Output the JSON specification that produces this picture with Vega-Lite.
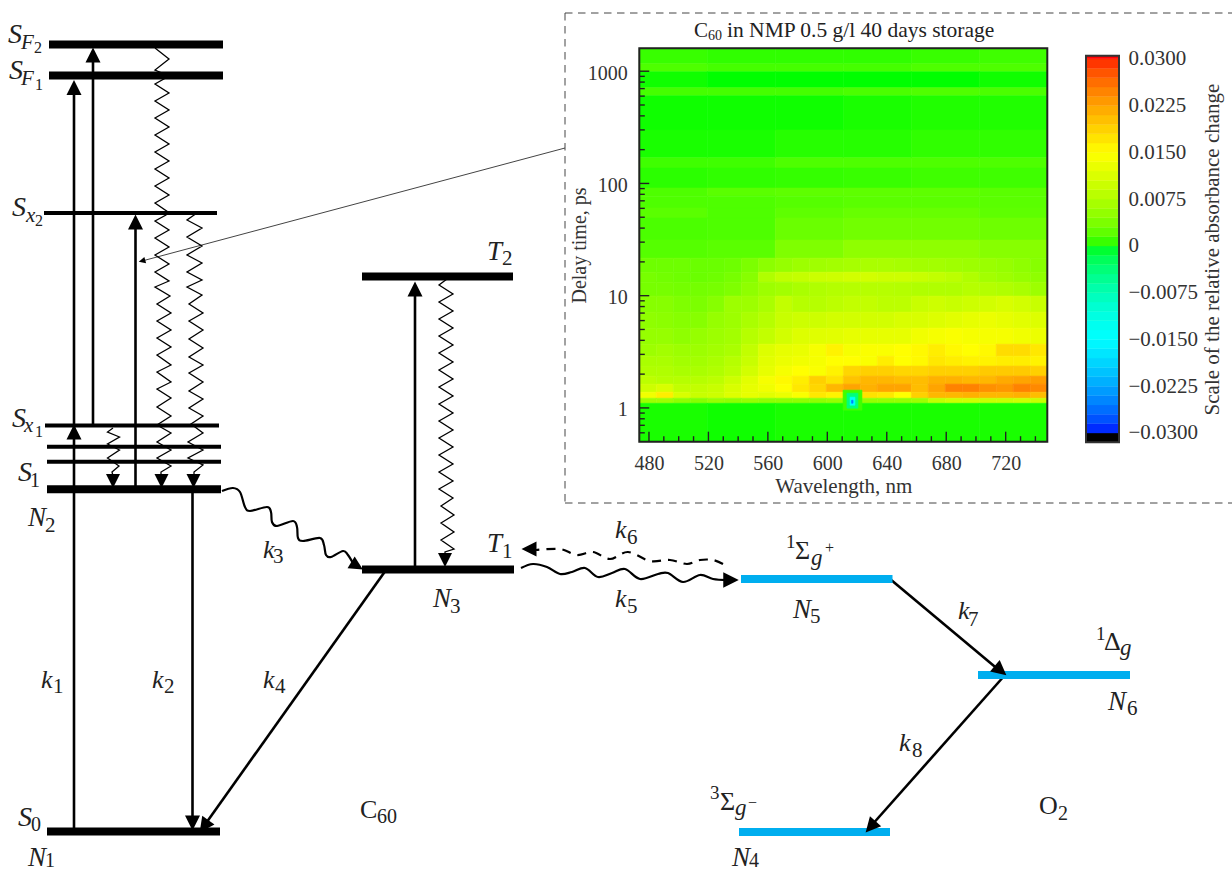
{"$schema":"https://vega.github.io/schema/vega-lite/v6.json","width":1232,"height":872,"padding":0,"autosize":{"type":"none"},"background":"white","config":{"view":{"stroke":null}},
"datasets":{
"cols":[{"c":0,"a":473.5,"b":484.9},{"c":1,"a":484.9,"b":496.4},{"c":2,"a":496.4,"b":507.8},{"c":3,"a":507.8,"b":519.3},{"c":4,"a":519.3,"b":530.7},{"c":5,"a":530.7,"b":542.1},{"c":6,"a":542.1,"b":553.6},{"c":7,"a":553.6,"b":565},{"c":8,"a":565,"b":576.4},{"c":9,"a":576.4,"b":587.9},{"c":10,"a":587.9,"b":599.3},{"c":11,"a":599.3,"b":610.8},{"c":12,"a":610.8,"b":622.2},{"c":13,"a":622.2,"b":633.6},{"c":14,"a":633.6,"b":645.1},{"c":15,"a":645.1,"b":656.5},{"c":16,"a":656.5,"b":667.9},{"c":17,"a":667.9,"b":679.4},{"c":18,"a":679.4,"b":690.8},{"c":19,"a":690.8,"b":702.3},{"c":20,"a":702.3,"b":713.7},{"c":21,"a":713.7,"b":725.1},{"c":22,"a":725.1,"b":736.6},{"c":23,"a":736.6,"b":748},{"c":30,"a":473.5,"b":519.3},{"c":31,"a":519.3,"b":565},{"c":32,"a":565,"b":610.8},{"c":33,"a":610.8,"b":656.5},{"c":34,"a":656.5,"b":702.3},{"c":35,"a":702.3,"b":748},{"c":40,"a":610.6,"b":623.3},{"c":41,"a":613.2,"b":620.6},{"c":42,"a":615.3,"b":618.6},{"c":43,"a":616.3,"b":617.3}],
"rowsT":[{"r":0,"d0":1164,"d1":1600},{"r":1,"d0":988,"d1":1164},{"r":2,"d0":711,"d1":988},{"r":3,"d0":604,"d1":711},{"r":4,"d0":300,"d1":604},{"r":5,"d0":169,"d1":300},{"r":6,"d0":137,"d1":169},{"r":7,"d0":91,"d1":137},{"r":8,"d0":77,"d1":91},{"r":9,"d0":60.4,"d1":77},{"r":10,"d0":49.2,"d1":60.4},{"r":11,"d0":31.3,"d1":49.2},{"r":12,"d0":21.6,"d1":31.3},{"r":13,"d0":16.2,"d1":21.6},{"r":14,"d0":13.2,"d1":16.2},{"r":15,"d0":9.92,"d1":13.2},{"r":16,"d0":7.14,"d1":9.92},{"r":17,"d0":5.14,"d1":7.14},{"r":18,"d0":3.7,"d1":5.14},{"r":19,"d0":2.89,"d1":3.7},{"r":20,"d0":2.36,"d1":2.89},{"r":21,"d0":1.92,"d1":2.36},{"r":22,"d0":1.63,"d1":1.92},{"r":23,"d0":1.38,"d1":1.63},{"r":24,"d0":1.22,"d1":1.38},{"r":25,"d0":1.1,"d1":1.22},{"r":26,"d0":0.5,"d1":1.1},{"r":40,"d0":0.954,"d1":1.44},{"r":41,"d0":0.994,"d1":1.352},{"r":42,"d0":1.057,"d1":1.246},{"r":43,"d0":1.101,"d1":1.171}],
"cells":[
{"c":30,"r":0,"v":0.0008},{"c":31,"r":0,"v":0.0006},{"c":32,"r":0,"v":0.0006},{"c":33,"r":0,"v":0.0006},{"c":34,"r":0,"v":0.0008},{"c":35,"r":0,"v":0.001},
{"c":30,"r":1,"v":0.0015},{"c":31,"r":1,"v":0.0012},{"c":32,"r":1,"v":0.0012},{"c":33,"r":1,"v":0.0012},{"c":34,"r":1,"v":0.0015},{"c":35,"r":1,"v":0.0015},
{"c":30,"r":2,"v":0.0001},{"c":31,"r":2,"v":0},{"c":32,"r":2,"v":0},{"c":33,"r":2,"v":0},{"c":34,"r":2,"v":0},{"c":35,"r":2,"v":0.0001},
{"c":30,"r":3,"v":0.0012},{"c":31,"r":3,"v":0.0012},{"c":32,"r":3,"v":0.0012},{"c":33,"r":3,"v":0.0014},{"c":34,"r":3,"v":0.0016},{"c":35,"r":3,"v":0.0014},
{"c":30,"r":4,"v":0.0001},{"c":31,"r":4,"v":0.0001},{"c":32,"r":4,"v":0.0001},{"c":33,"r":4,"v":0.0002},{"c":34,"r":4,"v":0.0003},{"c":35,"r":4,"v":0.0003},
{"c":30,"r":5,"v":0.0002},{"c":31,"r":5,"v":0.0002},{"c":32,"r":5,"v":0.0004},{"c":33,"r":5,"v":0.0004},{"c":34,"r":5,"v":0.0006},{"c":35,"r":5,"v":0.0006},
{"c":30,"r":6,"v":0.001},{"c":31,"r":6,"v":0.001},{"c":32,"r":6,"v":0.0015},{"c":33,"r":6,"v":0.0015},{"c":34,"r":6,"v":0.0015},{"c":35,"r":6,"v":0.0015},
{"c":30,"r":7,"v":0.0005},{"c":31,"r":7,"v":0.0006},{"c":32,"r":7,"v":0.0007},{"c":33,"r":7,"v":0.0008},{"c":34,"r":7,"v":0.001},{"c":35,"r":7,"v":0.001},
{"c":30,"r":8,"v":0.0015},{"c":31,"r":8,"v":0.002},{"c":32,"r":8,"v":0.0022},{"c":33,"r":8,"v":0.0022},{"c":34,"r":8,"v":0.0022},{"c":35,"r":8,"v":0.002},
{"c":30,"r":9,"v":0.0015},{"c":31,"r":9,"v":0.0015},{"c":32,"r":9,"v":0.0018},{"c":33,"r":9,"v":0.002},{"c":34,"r":9,"v":0.002},{"c":35,"r":9,"v":0.002},
{"c":30,"r":10,"v":0.002},{"c":31,"r":10,"v":0.0015},{"c":32,"r":10,"v":0.0022},{"c":33,"r":10,"v":0.0026},{"c":34,"r":10,"v":0.0026},{"c":35,"r":10,"v":0.0022},
{"c":30,"r":11,"v":0.0014},{"c":31,"r":11,"v":0.0015},{"c":32,"r":11,"v":0.0028},{"c":33,"r":11,"v":0.0032},{"c":34,"r":11,"v":0.0032},{"c":35,"r":11,"v":0.003},
{"c":30,"r":12,"v":0.0018},{"c":31,"r":12,"v":0.002},{"c":32,"r":12,"v":0.004},{"c":33,"r":12,"v":0.005},{"c":34,"r":12,"v":0.005},{"c":35,"r":12,"v":0.0045},
{"c":0,"r":13,"v":0.003},{"c":1,"r":13,"v":0.003},{"c":2,"r":13,"v":0.003},{"c":3,"r":13,"v":0.0028},{"c":4,"r":13,"v":0.0028},{"c":5,"r":13,"v":0.003},{"c":6,"r":13,"v":0.0038},{"c":7,"r":13,"v":0.0048},{"c":8,"r":13,"v":0.0055},{"c":9,"r":13,"v":0.006},{"c":10,"r":13,"v":0.0062},{"c":11,"r":13,"v":0.0065},{"c":12,"r":13,"v":0.0068},{"c":13,"r":13,"v":0.007},{"c":14,"r":13,"v":0.007},{"c":15,"r":13,"v":0.0068},{"c":16,"r":13,"v":0.0065},{"c":17,"r":13,"v":0.0065},{"c":18,"r":13,"v":0.0062},{"c":19,"r":13,"v":0.006},{"c":20,"r":13,"v":0.0058},{"c":21,"r":13,"v":0.0055},{"c":22,"r":13,"v":0.005},{"c":23,"r":13,"v":0.0045},
{"c":0,"r":14,"v":0.0035},{"c":1,"r":14,"v":0.0032},{"c":2,"r":14,"v":0.003},{"c":3,"r":14,"v":0.0028},{"c":4,"r":14,"v":0.003},{"c":5,"r":14,"v":0.0035},{"c":6,"r":14,"v":0.0045},{"c":7,"r":14,"v":0.0075},{"c":8,"r":14,"v":0.0088},{"c":9,"r":14,"v":0.0092},{"c":10,"r":14,"v":0.0098},{"c":11,"r":14,"v":0.01},{"c":12,"r":14,"v":0.0105},{"c":13,"r":14,"v":0.0105},{"c":14,"r":14,"v":0.01},{"c":15,"r":14,"v":0.01},{"c":16,"r":14,"v":0.0095},{"c":17,"r":14,"v":0.009},{"c":18,"r":14,"v":0.0085},{"c":19,"r":14,"v":0.0075},{"c":20,"r":14,"v":0.0065},{"c":21,"r":14,"v":0.006},{"c":22,"r":14,"v":0.0055},{"c":23,"r":14,"v":0.005},
{"c":0,"r":15,"v":0.0035},{"c":1,"r":15,"v":0.0035},{"c":2,"r":15,"v":0.0033},{"c":3,"r":15,"v":0.0033},{"c":4,"r":15,"v":0.0035},{"c":5,"r":15,"v":0.004},{"c":6,"r":15,"v":0.005},{"c":7,"r":15,"v":0.006},{"c":8,"r":15,"v":0.0065},{"c":9,"r":15,"v":0.007},{"c":10,"r":15,"v":0.0075},{"c":11,"r":15,"v":0.0078},{"c":12,"r":15,"v":0.008},{"c":13,"r":15,"v":0.008},{"c":14,"r":15,"v":0.008},{"c":15,"r":15,"v":0.0078},{"c":16,"r":15,"v":0.0075},{"c":17,"r":15,"v":0.0075},{"c":18,"r":15,"v":0.0075},{"c":19,"r":15,"v":0.008},{"c":20,"r":15,"v":0.0078},{"c":21,"r":15,"v":0.0075},{"c":22,"r":15,"v":0.007},{"c":23,"r":15,"v":0.006},
{"c":0,"r":16,"v":0.0045},{"c":1,"r":16,"v":0.0045},{"c":2,"r":16,"v":0.004},{"c":3,"r":16,"v":0.0038},{"c":4,"r":16,"v":0.0045},{"c":5,"r":16,"v":0.006},{"c":6,"r":16,"v":0.006},{"c":7,"r":16,"v":0.007},{"c":8,"r":16,"v":0.009},{"c":9,"r":16,"v":0.008},{"c":10,"r":16,"v":0.008},{"c":11,"r":16,"v":0.0085},{"c":12,"r":16,"v":0.009},{"c":13,"r":16,"v":0.009},{"c":14,"r":16,"v":0.0085},{"c":15,"r":16,"v":0.0085},{"c":16,"r":16,"v":0.0095},{"c":17,"r":16,"v":0.01},{"c":18,"r":16,"v":0.0095},{"c":19,"r":16,"v":0.01},{"c":20,"r":16,"v":0.0105},{"c":21,"r":16,"v":0.011},{"c":22,"r":16,"v":0.0105},{"c":23,"r":16,"v":0.0095},
{"c":0,"r":17,"v":0.005},{"c":1,"r":17,"v":0.0048},{"c":2,"r":17,"v":0.0045},{"c":3,"r":17,"v":0.0045},{"c":4,"r":17,"v":0.0055},{"c":5,"r":17,"v":0.006},{"c":6,"r":17,"v":0.007},{"c":7,"r":17,"v":0.008},{"c":8,"r":17,"v":0.0095},{"c":9,"r":17,"v":0.01},{"c":10,"r":17,"v":0.01},{"c":11,"r":17,"v":0.0105},{"c":12,"r":17,"v":0.0105},{"c":13,"r":17,"v":0.0105},{"c":14,"r":17,"v":0.0105},{"c":15,"r":17,"v":0.011},{"c":16,"r":17,"v":0.011},{"c":17,"r":17,"v":0.0115},{"c":18,"r":17,"v":0.012},{"c":19,"r":17,"v":0.0125},{"c":20,"r":17,"v":0.013},{"c":21,"r":17,"v":0.0125},{"c":22,"r":17,"v":0.012},{"c":23,"r":17,"v":0.0115},
{"c":0,"r":18,"v":0.0055},{"c":1,"r":18,"v":0.0055},{"c":2,"r":18,"v":0.005},{"c":3,"r":18,"v":0.0055},{"c":4,"r":18,"v":0.006},{"c":5,"r":18,"v":0.0065},{"c":6,"r":18,"v":0.008},{"c":7,"r":18,"v":0.009},{"c":8,"r":18,"v":0.0105},{"c":9,"r":18,"v":0.0115},{"c":10,"r":18,"v":0.0118},{"c":11,"r":18,"v":0.012},{"c":12,"r":18,"v":0.0125},{"c":13,"r":18,"v":0.0125},{"c":14,"r":18,"v":0.0125},{"c":15,"r":18,"v":0.0125},{"c":16,"r":18,"v":0.0135},{"c":17,"r":18,"v":0.014},{"c":18,"r":18,"v":0.0145},{"c":19,"r":18,"v":0.014},{"c":20,"r":18,"v":0.014},{"c":21,"r":18,"v":0.014},{"c":22,"r":18,"v":0.0135},{"c":23,"r":18,"v":0.013},
{"c":0,"r":19,"v":0.006},{"c":1,"r":19,"v":0.0065},{"c":2,"r":19,"v":0.006},{"c":3,"r":19,"v":0.006},{"c":4,"r":19,"v":0.0065},{"c":5,"r":19,"v":0.007},{"c":6,"r":19,"v":0.009},{"c":7,"r":19,"v":0.0115},{"c":8,"r":19,"v":0.0125},{"c":9,"r":19,"v":0.0128},{"c":10,"r":19,"v":0.014},{"c":11,"r":19,"v":0.016},{"c":12,"r":19,"v":0.014},{"c":13,"r":19,"v":0.0145},{"c":14,"r":19,"v":0.0145},{"c":15,"r":19,"v":0.015},{"c":16,"r":19,"v":0.0155},{"c":17,"r":19,"v":0.0165},{"c":18,"r":19,"v":0.0155},{"c":19,"r":19,"v":0.015},{"c":20,"r":19,"v":0.0155},{"c":21,"r":19,"v":0.018},{"c":22,"r":19,"v":0.018},{"c":23,"r":19,"v":0.017},
{"c":0,"r":20,"v":0.007},{"c":1,"r":20,"v":0.007},{"c":2,"r":20,"v":0.0065},{"c":3,"r":20,"v":0.0065},{"c":4,"r":20,"v":0.007},{"c":5,"r":20,"v":0.008},{"c":6,"r":20,"v":0.0095},{"c":7,"r":20,"v":0.012},{"c":8,"r":20,"v":0.013},{"c":9,"r":20,"v":0.0135},{"c":10,"r":20,"v":0.014},{"c":11,"r":20,"v":0.015},{"c":12,"r":20,"v":0.015},{"c":13,"r":20,"v":0.0145},{"c":14,"r":20,"v":0.0165},{"c":15,"r":20,"v":0.015},{"c":16,"r":20,"v":0.0155},{"c":17,"r":20,"v":0.017},{"c":18,"r":20,"v":0.0165},{"c":19,"r":20,"v":0.016},{"c":20,"r":20,"v":0.016},{"c":21,"r":20,"v":0.0165},{"c":22,"r":20,"v":0.0165},{"c":23,"r":20,"v":0.016},
{"c":0,"r":21,"v":0.0075},{"c":1,"r":21,"v":0.0075},{"c":2,"r":21,"v":0.007},{"c":3,"r":21,"v":0.007},{"c":4,"r":21,"v":0.0075},{"c":5,"r":21,"v":0.0085},{"c":6,"r":21,"v":0.0105},{"c":7,"r":21,"v":0.0125},{"c":8,"r":21,"v":0.014},{"c":9,"r":21,"v":0.015},{"c":10,"r":21,"v":0.0145},{"c":11,"r":21,"v":0.016},{"c":12,"r":21,"v":0.0185},{"c":13,"r":21,"v":0.019},{"c":14,"r":21,"v":0.019},{"c":15,"r":21,"v":0.0185},{"c":16,"r":21,"v":0.0185},{"c":17,"r":21,"v":0.019},{"c":18,"r":21,"v":0.019},{"c":19,"r":21,"v":0.019},{"c":20,"r":21,"v":0.0195},{"c":21,"r":21,"v":0.0195},{"c":22,"r":21,"v":0.0195},{"c":23,"r":21,"v":0.019},
{"c":0,"r":22,"v":0.0085},{"c":1,"r":22,"v":0.008},{"c":2,"r":22,"v":0.008},{"c":3,"r":22,"v":0.008},{"c":4,"r":22,"v":0.0085},{"c":5,"r":22,"v":0.01},{"c":6,"r":22,"v":0.012},{"c":7,"r":22,"v":0.014},{"c":8,"r":22,"v":0.0155},{"c":9,"r":22,"v":0.0165},{"c":10,"r":22,"v":0.019},{"c":11,"r":22,"v":0.0175},{"c":12,"r":22,"v":0.02},{"c":13,"r":22,"v":0.021},{"c":14,"r":22,"v":0.021},{"c":15,"r":22,"v":0.0205},{"c":16,"r":22,"v":0.0205},{"c":17,"r":22,"v":0.0215},{"c":18,"r":22,"v":0.0215},{"c":19,"r":22,"v":0.021},{"c":20,"r":22,"v":0.021},{"c":21,"r":22,"v":0.022},{"c":22,"r":22,"v":0.0225},{"c":23,"r":22,"v":0.023},
{"c":0,"r":23,"v":0.01},{"c":1,"r":23,"v":0.011},{"c":2,"r":23,"v":0.009},{"c":3,"r":23,"v":0.009},{"c":4,"r":23,"v":0.0095},{"c":5,"r":23,"v":0.011},{"c":6,"r":23,"v":0.0125},{"c":7,"r":23,"v":0.0135},{"c":8,"r":23,"v":0.015},{"c":9,"r":23,"v":0.017},{"c":10,"r":23,"v":0.0185},{"c":11,"r":23,"v":0.021},{"c":12,"r":23,"v":0.0225},{"c":13,"r":23,"v":0.0215},{"c":14,"r":23,"v":0.0225},{"c":15,"r":23,"v":0.0225},{"c":16,"r":23,"v":0.0205},{"c":17,"r":23,"v":0.0225},{"c":18,"r":23,"v":0.025},{"c":19,"r":23,"v":0.025},{"c":20,"r":23,"v":0.024},{"c":21,"r":23,"v":0.0235},{"c":22,"r":23,"v":0.025},{"c":23,"r":23,"v":0.0245},
{"c":0,"r":24,"v":0.0135},{"c":1,"r":24,"v":0.0165},{"c":2,"r":24,"v":0.011},{"c":3,"r":24,"v":0.0095},{"c":4,"r":24,"v":0.01},{"c":5,"r":24,"v":0.0115},{"c":6,"r":24,"v":0.0125},{"c":7,"r":24,"v":0.012},{"c":8,"r":24,"v":0.013},{"c":9,"r":24,"v":0.0145},{"c":10,"r":24,"v":0.017},{"c":11,"r":24,"v":0.016},{"c":12,"r":24,"v":0.0175},{"c":13,"r":24,"v":0.0175},{"c":14,"r":24,"v":0.017},{"c":15,"r":24,"v":0.015},{"c":16,"r":24,"v":0.019},{"c":17,"r":24,"v":0.021},{"c":18,"r":24,"v":0.021},{"c":19,"r":24,"v":0.0215},{"c":20,"r":24,"v":0.021},{"c":21,"r":24,"v":0.021},{"c":22,"r":24,"v":0.0215},{"c":23,"r":24,"v":0.0205},
{"c":0,"r":25,"v":0.006},{"c":1,"r":25,"v":0.006},{"c":2,"r":25,"v":0.005},{"c":3,"r":25,"v":0.0045},{"c":4,"r":25,"v":0.0055},{"c":5,"r":25,"v":0.005},{"c":6,"r":25,"v":0.0055},{"c":7,"r":25,"v":0.005},{"c":8,"r":25,"v":0.005},{"c":9,"r":25,"v":0.005},{"c":10,"r":25,"v":0.005},{"c":11,"r":25,"v":0.0055},{"c":12,"r":25,"v":0.006},{"c":13,"r":25,"v":0.0055},{"c":14,"r":25,"v":0.0055},{"c":15,"r":25,"v":0.0055},{"c":16,"r":25,"v":0.006},{"c":17,"r":25,"v":0.009},{"c":18,"r":25,"v":0.01},{"c":19,"r":25,"v":0.01},{"c":20,"r":25,"v":0.0095},{"c":21,"r":25,"v":0.0095},{"c":22,"r":25,"v":0.01},{"c":23,"r":25,"v":0.0095},
{"c":30,"r":26,"v":0.0002},{"c":31,"r":26,"v":0.0001},{"c":32,"r":26,"v":0.0002},{"c":33,"r":26,"v":0.0002},{"c":34,"r":26,"v":0.0002},{"c":35,"r":26,"v":0.0002},
{"c":40,"r":40,"v":0.001},{"c":41,"r":41,"v":-0.004},{"c":42,"r":42,"v":-0.014},{"c":43,"r":43,"v":-0.025}],
"bar":[{"a":0,"b":1,"v0":-0.0315,"v1":-0.03,"v":-0.0305},{"a":0,"b":1,"v0":-0.03,"v1":-0.0285,"v":-0.0293},{"a":0,"b":1,"v0":-0.0285,"v1":-0.027,"v":-0.0278},{"a":0,"b":1,"v0":-0.027,"v1":-0.0255,"v":-0.0263},{"a":0,"b":1,"v0":-0.0255,"v1":-0.024,"v":-0.0248},{"a":0,"b":1,"v0":-0.024,"v1":-0.0225,"v":-0.0233},{"a":0,"b":1,"v0":-0.0225,"v1":-0.021,"v":-0.0218},{"a":0,"b":1,"v0":-0.021,"v1":-0.0195,"v":-0.0203},{"a":0,"b":1,"v0":-0.0195,"v1":-0.018,"v":-0.0188},{"a":0,"b":1,"v0":-0.018,"v1":-0.0165,"v":-0.0173},{"a":0,"b":1,"v0":-0.0165,"v1":-0.015,"v":-0.0158},{"a":0,"b":1,"v0":-0.015,"v1":-0.0135,"v":-0.0143},{"a":0,"b":1,"v0":-0.0135,"v1":-0.012,"v":-0.0128},{"a":0,"b":1,"v0":-0.012,"v1":-0.0105,"v":-0.0113},{"a":0,"b":1,"v0":-0.0105,"v1":-0.009,"v":-0.0098},{"a":0,"b":1,"v0":-0.009,"v1":-0.0075,"v":-0.0083},{"a":0,"b":1,"v0":-0.0075,"v1":-0.006,"v":-0.0068},{"a":0,"b":1,"v0":-0.006,"v1":-0.0045,"v":-0.0053},{"a":0,"b":1,"v0":-0.0045,"v1":-0.003,"v":-0.0038},{"a":0,"b":1,"v0":-0.003,"v1":-0.0015,"v":-0.0023},{"a":0,"b":1,"v0":-0.0015,"v1":0,"v":-0.0008},{"a":0,"b":1,"v0":0,"v1":0.0015,"v":0.0008},{"a":0,"b":1,"v0":0.0015,"v1":0.003,"v":0.0023},{"a":0,"b":1,"v0":0.003,"v1":0.0045,"v":0.0038},{"a":0,"b":1,"v0":0.0045,"v1":0.006,"v":0.0053},{"a":0,"b":1,"v0":0.006,"v1":0.0075,"v":0.0068},{"a":0,"b":1,"v0":0.0075,"v1":0.009,"v":0.0083},{"a":0,"b":1,"v0":0.009,"v1":0.0105,"v":0.0098},{"a":0,"b":1,"v0":0.0105,"v1":0.012,"v":0.0113},{"a":0,"b":1,"v0":0.012,"v1":0.0135,"v":0.0128},{"a":0,"b":1,"v0":0.0135,"v1":0.015,"v":0.0143},{"a":0,"b":1,"v0":0.015,"v1":0.0165,"v":0.0158},{"a":0,"b":1,"v0":0.0165,"v1":0.018,"v":0.0173},{"a":0,"b":1,"v0":0.018,"v1":0.0195,"v":0.0188},{"a":0,"b":1,"v0":0.0195,"v1":0.021,"v":0.0203},{"a":0,"b":1,"v0":0.021,"v1":0.0225,"v":0.0218},{"a":0,"b":1,"v0":0.0225,"v1":0.024,"v":0.0233},{"a":0,"b":1,"v0":0.024,"v1":0.0255,"v":0.0248},{"a":0,"b":1,"v0":0.0255,"v1":0.027,"v":0.0263},{"a":0,"b":1,"v0":0.027,"v1":0.0285,"v":0.0278},{"a":0,"b":1,"v0":0.0285,"v1":0.03,"v":0.0293},{"a":0,"b":1,"v0":0.03,"v1":0.0305,"v":0.0305}],
"ticks":[{"a":480,"b":480,"d0":0.5,"d1":0.614},{"a":520,"b":520,"d0":0.5,"d1":0.614},{"a":560,"b":560,"d0":0.5,"d1":0.614},{"a":600,"b":600,"d0":0.5,"d1":0.614},{"a":640,"b":640,"d0":0.5,"d1":0.614},{"a":680,"b":680,"d0":0.5,"d1":0.614},{"a":720,"b":720,"d0":0.5,"d1":0.614},
{"a":490,"b":490,"d0":0.5,"d1":0.56},{"a":500,"b":500,"d0":0.5,"d1":0.56},{"a":510,"b":510,"d0":0.5,"d1":0.56},{"a":530,"b":530,"d0":0.5,"d1":0.56},{"a":540,"b":540,"d0":0.5,"d1":0.56},{"a":550,"b":550,"d0":0.5,"d1":0.56},{"a":570,"b":570,"d0":0.5,"d1":0.56},{"a":580,"b":580,"d0":0.5,"d1":0.56},{"a":590,"b":590,"d0":0.5,"d1":0.56},{"a":610,"b":610,"d0":0.5,"d1":0.56},{"a":620,"b":620,"d0":0.5,"d1":0.56},{"a":630,"b":630,"d0":0.5,"d1":0.56},{"a":650,"b":650,"d0":0.5,"d1":0.56},{"a":660,"b":660,"d0":0.5,"d1":0.56},{"a":670,"b":670,"d0":0.5,"d1":0.56},{"a":690,"b":690,"d0":0.5,"d1":0.56},{"a":700,"b":700,"d0":0.5,"d1":0.56},{"a":710,"b":710,"d0":0.5,"d1":0.56},{"a":730,"b":730,"d0":0.5,"d1":0.56},{"a":740,"b":740,"d0":0.5,"d1":0.56},
{"a":473.5,"b":480.2,"d0":1,"d1":1},{"a":473.5,"b":480.2,"d0":10,"d1":10},{"a":473.5,"b":480.2,"d0":100,"d1":100},{"a":473.5,"b":480.2,"d0":1000,"d1":1000},
{"a":473.5,"b":477.2,"d0":0.6,"d1":0.6},{"a":473.5,"b":477.2,"d0":0.7,"d1":0.7},{"a":473.5,"b":477.2,"d0":0.8,"d1":0.8},{"a":473.5,"b":477.2,"d0":0.9,"d1":0.9},{"a":473.5,"b":477.2,"d0":2,"d1":2},{"a":473.5,"b":477.2,"d0":3,"d1":3},{"a":473.5,"b":477.2,"d0":4,"d1":4},{"a":473.5,"b":477.2,"d0":5,"d1":5},{"a":473.5,"b":477.2,"d0":6,"d1":6},{"a":473.5,"b":477.2,"d0":7,"d1":7},{"a":473.5,"b":477.2,"d0":8,"d1":8},{"a":473.5,"b":477.2,"d0":9,"d1":9},{"a":473.5,"b":477.2,"d0":20,"d1":20},{"a":473.5,"b":477.2,"d0":30,"d1":30},{"a":473.5,"b":477.2,"d0":40,"d1":40},{"a":473.5,"b":477.2,"d0":50,"d1":50},{"a":473.5,"b":477.2,"d0":60,"d1":60},{"a":473.5,"b":477.2,"d0":70,"d1":70},{"a":473.5,"b":477.2,"d0":80,"d1":80},{"a":473.5,"b":477.2,"d0":90,"d1":90},{"a":473.5,"b":477.2,"d0":200,"d1":200},{"a":473.5,"b":477.2,"d0":300,"d1":300},{"a":473.5,"b":477.2,"d0":400,"d1":400},{"a":473.5,"b":477.2,"d0":500,"d1":500},{"a":473.5,"b":477.2,"d0":600,"d1":600},{"a":473.5,"b":477.2,"d0":700,"d1":700},{"a":473.5,"b":477.2,"d0":800,"d1":800},{"a":473.5,"b":477.2,"d0":900,"d1":900}],
"levels":[{"x":49,"x2":223,"y":44.5,"w":8,"col":"black"},{"x":49,"x2":223,"y":75.5,"w":8,"col":"black"},{"x":44,"x2":217,"y":213,"w":4,"col":"black"},{"x":45,"x2":219,"y":425.5,"w":4,"col":"black"},{"x":47,"x2":221,"y":446.7,"w":4,"col":"black"},{"x":47,"x2":221,"y":461.7,"w":4,"col":"black"},{"x":47,"x2":221,"y":489.3,"w":8,"col":"black"},{"x":47,"x2":220,"y":831.5,"w":8,"col":"black"},{"x":362,"x2":513,"y":276.5,"w":8,"col":"black"},{"x":362,"x2":514,"y":569.5,"w":8,"col":"black"},{"x":741,"x2":892.5,"y":579,"w":8,"col":"#00aeef"},{"x":978,"x2":1130,"y":675,"w":8,"col":"#00aeef"},{"x":739,"x2":890,"y":832,"w":8,"col":"#00aeef"}],
"arrows":[{"x":74,"y":831,"x2":74,"y2":88,"w":2.6,"col":"black"},{"x":93,"y":425,"x2":93,"y2":56,"w":2.6,"col":"black"},{"x":135.5,"y":489,"x2":135.5,"y2":222,"w":2.6,"col":"black"},{"x":192.5,"y":489,"x2":192.5,"y2":822,"w":2.6,"col":"black"},{"x":415,"y":569,"x2":415,"y2":290,"w":2.6,"col":"black"},{"x":386,"y":570,"x2":204,"y2":826,"w":2.6,"col":"black"},{"x":890,"y":579,"x2":1000,"y2":671,"w":2.6,"col":"black"},{"x":1005,"y":675,"x2":871,"y2":826,"w":2.6,"col":"black"},{"x":565,"y":148,"x2":142,"y2":261,"w":1,"col":"#444444"}],
"box":[{"x":565,"y":13,"x2":1232,"y2":13},{"x":565,"y":503,"x2":1232,"y2":503},{"x":565,"y":13,"x2":565,"y2":503}],
"heads":[{"x":74,"y":87.5,"a":0,"s":225},{"x":93,"y":55,"a":0,"s":225},{"x":135.5,"y":222,"a":0,"s":225},{"x":74,"y":432,"a":0,"s":225},{"x":113,"y":481,"a":180,"s":196},{"x":161.5,"y":481,"a":180,"s":196},{"x":193.5,"y":481,"a":180,"s":196},{"x":192.5,"y":823,"a":180,"s":225},{"x":415,"y":289,"a":0,"s":225},{"x":445,"y":560,"a":180,"s":196},{"x":204,"y":826.3,"a":215.4,"s":225},{"x":1000.6,"y":670.5,"a":129.9,"s":225},{"x":870.6,"y":826.8,"a":221.5,"s":225},{"x":357,"y":566,"a":121,"s":190},{"x":731,"y":580,"a":90,"s":240},{"x":529,"y":549,"a":270,"s":225},{"x":142,"y":261,"a":255,"s":45}],
"zig":[
{"id":"a","x":155,"y":48},{"id":"a","x":169,"y":59},{"id":"a","x":155,"y":70},{"id":"a","x":169,"y":76},{"id":"a","x":155,"y":84},{"id":"a","x":169,"y":93},{"id":"a","x":155,"y":101},{"id":"a","x":169,"y":110},{"id":"a","x":155,"y":118},{"id":"a","x":169,"y":127},{"id":"a","x":155,"y":135},{"id":"a","x":169,"y":144},{"id":"a","x":155,"y":152},{"id":"a","x":169,"y":161},{"id":"a","x":155,"y":169},{"id":"a","x":169,"y":178},{"id":"a","x":155,"y":186},{"id":"a","x":169,"y":195},{"id":"a","x":155,"y":203},{"id":"a","x":168,"y":212},{"id":"a","x":166,"y":215},{"id":"a","x":155,"y":221},{"id":"a","x":169,"y":230},{"id":"a","x":155,"y":238},{"id":"a","x":169,"y":247},{"id":"a","x":155,"y":255},{"id":"a","x":169,"y":264},{"id":"a","x":155,"y":272},{"id":"a","x":169,"y":281},{"id":"a","x":155,"y":287},{"id":"a","x":170,"y":296},{"id":"a","x":157,"y":304},{"id":"a","x":171,"y":313},{"id":"a","x":157,"y":321},{"id":"a","x":171,"y":330},{"id":"a","x":157,"y":338},{"id":"a","x":171,"y":347},{"id":"a","x":157,"y":355},{"id":"a","x":171,"y":365},{"id":"a","x":157,"y":372},{"id":"a","x":171,"y":382},{"id":"a","x":157,"y":389},{"id":"a","x":171,"y":398},{"id":"a","x":157,"y":407},{"id":"a","x":171,"y":416},{"id":"a","x":157,"y":425},{"id":"a","x":171,"y":433},{"id":"a","x":157,"y":442},{"id":"a","x":171,"y":450},{"id":"a","x":157,"y":458},{"id":"a","x":171,"y":466},{"id":"a","x":161,"y":472},{"id":"a","x":161,"y":476},
{"id":"b","x":197,"y":213},{"id":"b","x":187,"y":220},{"id":"b","x":202,"y":228},{"id":"b","x":187,"y":237},{"id":"b","x":202,"y":246},{"id":"b","x":187,"y":255},{"id":"b","x":202,"y":263},{"id":"b","x":187,"y":272},{"id":"b","x":202,"y":280},{"id":"b","x":187,"y":287},{"id":"b","x":202,"y":295},{"id":"b","x":189,"y":304},{"id":"b","x":203,"y":313},{"id":"b","x":189,"y":321},{"id":"b","x":203,"y":330},{"id":"b","x":189,"y":339},{"id":"b","x":203,"y":348},{"id":"b","x":189,"y":357},{"id":"b","x":203,"y":365},{"id":"b","x":189,"y":373},{"id":"b","x":203,"y":382},{"id":"b","x":189,"y":391},{"id":"b","x":203,"y":399},{"id":"b","x":189,"y":408},{"id":"b","x":203,"y":416},{"id":"b","x":191,"y":424},{"id":"b","x":203,"y":433},{"id":"b","x":188,"y":442},{"id":"b","x":203,"y":450},{"id":"b","x":188,"y":458},{"id":"b","x":203,"y":465},{"id":"b","x":194,"y":472},{"id":"b","x":194,"y":476},
{"id":"c","x":113,"y":428},{"id":"c","x":107.5,"y":432},{"id":"c","x":119.5,"y":437},{"id":"c","x":107.5,"y":444},{"id":"c","x":119.5,"y":450},{"id":"c","x":107.5,"y":458},{"id":"c","x":119,"y":466},{"id":"c","x":112,"y":472},{"id":"c","x":113,"y":476},
{"id":"d","x":447,"y":279},{"id":"d","x":439,"y":285},{"id":"d","x":453,"y":294},{"id":"d","x":439,"y":302},{"id":"d","x":453,"y":311},{"id":"d","x":439,"y":319},{"id":"d","x":453,"y":328},{"id":"d","x":439,"y":336},{"id":"d","x":453,"y":345},{"id":"d","x":439,"y":353},{"id":"d","x":453,"y":362},{"id":"d","x":439,"y":370},{"id":"d","x":453,"y":379},{"id":"d","x":439,"y":387},{"id":"d","x":453,"y":396},{"id":"d","x":439,"y":404},{"id":"d","x":453,"y":413},{"id":"d","x":439,"y":421},{"id":"d","x":453,"y":430},{"id":"d","x":439,"y":438},{"id":"d","x":453,"y":447},{"id":"d","x":439,"y":455},{"id":"d","x":453,"y":464},{"id":"d","x":439,"y":472},{"id":"d","x":453,"y":481},{"id":"d","x":439,"y":489},{"id":"d","x":453,"y":498},{"id":"d","x":441,"y":506},{"id":"d","x":454,"y":515},{"id":"d","x":441,"y":523},{"id":"d","x":454,"y":532},{"id":"d","x":441,"y":540},{"id":"d","x":454,"y":549},{"id":"d","x":445,"y":552},{"id":"d","x":445,"y":556}],
"wavy":[
{"id":"k3","x":222,"y":491},{"id":"k3","x":233,"y":488},{"id":"k3","x":240,"y":492},{"id":"k3","x":245,"y":507},{"id":"k3","x":250,"y":511},{"id":"k3","x":267,"y":507},{"id":"k3","x":271,"y":512},{"id":"k3","x":272,"y":522},{"id":"k3","x":277,"y":526},{"id":"k3","x":293,"y":521},{"id":"k3","x":297,"y":527},{"id":"k3","x":298,"y":538},{"id":"k3","x":303,"y":541},{"id":"k3","x":320,"y":538},{"id":"k3","x":324,"y":545},{"id":"k3","x":326,"y":555},{"id":"k3","x":331,"y":557},{"id":"k3","x":343,"y":551},{"id":"k3","x":348,"y":555},{"id":"k3","x":354,"y":565},
{"id":"k5","x":521,"y":568},{"id":"k5","x":533,"y":564},{"id":"k5","x":547,"y":567},{"id":"k5","x":560,"y":574},{"id":"k5","x":572,"y":572},{"id":"k5","x":585,"y":568},{"id":"k5","x":598,"y":577},{"id":"k5","x":612,"y":573},{"id":"k5","x":625,"y":569},{"id":"k5","x":640,"y":579},{"id":"k5","x":658,"y":574},{"id":"k5","x":668,"y":573},{"id":"k5","x":683,"y":582},{"id":"k5","x":700,"y":575},{"id":"k5","x":713,"y":579},{"id":"k5","x":727,"y":580}],
"wavyd":[{"id":"k6","x":723,"y":564},{"id":"k6","x":713,"y":560},{"id":"k6","x":700,"y":560},{"id":"k6","x":687,"y":564},{"id":"k6","x":670,"y":560},{"id":"k6","x":650,"y":561},{"id":"k6","x":628,"y":552},{"id":"k6","x":610,"y":559},{"id":"k6","x":593,"y":552},{"id":"k6","x":577,"y":555},{"id":"k6","x":560,"y":549},{"id":"k6","x":536,"y":550}],
"ital":[{"x":8,"y":43,"t":"S","s":28},{"x":21,"y":49,"t":"F","s":21},{"x":9,"y":79,"t":"S","s":28},{"x":21,"y":85,"t":"F","s":21},{"x":12,"y":216,"t":"S","s":28},{"x":26,"y":222,"t":"x","s":21},{"x":12,"y":427,"t":"S","s":28},{"x":24,"y":432,"t":"x","s":21},{"x":18,"y":481,"t":"S","s":28},{"x":18,"y":826,"t":"S","s":28},{"x":28,"y":526,"t":"N","s":27},{"x":28,"y":866,"t":"N","s":27},{"x":433,"y":607,"t":"N","s":27},{"x":793,"y":618,"t":"N","s":27},{"x":1108,"y":710,"t":"N","s":27},{"x":732,"y":866,"t":"N","s":27},{"x":41,"y":688,"t":"k","s":26},{"x":152,"y":688,"t":"k","s":26},{"x":263,"y":558,"t":"k","s":26},{"x":263,"y":688,"t":"k","s":26},{"x":615,"y":607,"t":"k","s":26},{"x":615,"y":538,"t":"k","s":26},{"x":958,"y":619,"t":"k","s":26},{"x":899,"y":751,"t":"k","s":26},{"x":487,"y":552,"t":"T","s":27},{"x":487,"y":260,"t":"T","s":27},{"x":1120,"y":655,"t":"g","s":23},{"x":735,"y":815,"t":"g","s":23},{"x":811,"y":565,"t":"g","s":23}],
"rom":[{"x":34,"y":53,"t":"2","s":16},{"x":35,"y":90,"t":"1","s":16},{"x":35,"y":226,"t":"2","s":16},{"x":35,"y":437,"t":"1","s":16},{"x":30,"y":487,"t":"1","s":20},{"x":31,"y":831,"t":"0","s":20},{"x":45,"y":532,"t":"2","s":21},{"x":45,"y":867,"t":"1","s":20},{"x":450,"y":613,"t":"3","s":21},{"x":810,"y":623,"t":"5","s":21},{"x":1127,"y":715,"t":"6","s":21},{"x":749,"y":867,"t":"4","s":20},{"x":53,"y":693,"t":"1","s":21},{"x":164,"y":693,"t":"2","s":21},{"x":273,"y":563,"t":"3","s":21},{"x":275,"y":693,"t":"4","s":21},{"x":627,"y":613,"t":"5","s":21},{"x":627,"y":544,"t":"6","s":21},{"x":968,"y":626,"t":"7","s":21},{"x":912,"y":757,"t":"8","s":21},{"x":502,"y":558,"t":"1","s":21},{"x":502,"y":265,"t":"2","s":21},{"x":1096,"y":640,"t":"1","s":19},{"x":1104,"y":650,"t":"Δ","s":26},{"x":710,"y":799,"t":"3","s":19},{"x":720,"y":810,"t":"Σ","s":26},{"x":748,"y":808,"t":"−","s":16},{"x":786,"y":548,"t":"1","s":19},{"x":795,"y":559,"t":"Σ","s":26},{"x":825,"y":553,"t":"+","s":16},{"x":360,"y":818,"t":"C","s":26},{"x":377,"y":823,"t":"60","s":20},{"x":1039,"y":814,"t":"O","s":26},{"x":1058,"y":820,"t":"2","s":20},{"x":694,"y":37,"t":"C","s":21},{"x":708,"y":40,"t":"60","s":14},{"x":727,"y":37,"t":"in NMP 0.5 g/l 40 days storage","s":21.5}]
},
"layer":[
{"data":{"name":"cells"},
"transform":[{"lookup":"c","from":{"data":{"name":"cols"},"key":"c","fields":["a","b"]}},{"lookup":"r","from":{"data":{"name":"rowsT"},"key":"r","fields":["d0","d1"]}}],
"mark":{"type":"rect","strokeWidth":0.6},
"encoding":{
"x":{"field":"a","type":"quantitative","scale":{"domain":[473.5,748],"range":[639.3,1047.3],"nice":false,"zero":false},"axis":{"orient":"bottom","offset":-430.3,"values":[480,520,560,600,640,680,720],"format":"d","grid":false,"domain":false,"ticks":false,"labelPadding":12,"labelFont":"Liberation Serif","labelFontSize":20,"labelColor":"#333333","labelOverlap":false,"title":"Wavelength, nm","titleFont":"Liberation Serif","titleFontSize":21,"titleFontWeight":"normal","titleColor":"#333333","titlePadding":2}},
"x2":{"field":"b"},
"y":{"field":"d0","type":"quantitative","scale":{"type":"log","domain":[0.5,1600],"range":[441.7,48.3],"nice":false},"axis":{"orient":"left","offset":-639.3,"values":[1,10,100,1000],"format":"d","grid":false,"domain":false,"ticks":false,"labelPadding":12,"labelOffset":2,"labelFont":"Liberation Serif","labelFontSize":20,"labelColor":"#333333","labelOverlap":false,"title":"Delay time, ps","titleFont":"Liberation Serif","titleFontSize":20,"titleFontWeight":"normal","titleColor":"#333333","titlePadding":-2}},
"y2":{"field":"d1"},
"fill":{"field":"v","type":"quantitative","scale":{"domain":[-0.0315,-0.0301,-0.03,-0.015,0,0.015,0.0305],"range":["#000000","#000000","#0000ff","#00ffff","#00ff00","#ffff00","#ff0000"]},"legend":null},
"stroke":{"field":"v","type":"quantitative","scale":{"domain":[-0.0315,-0.0301,-0.03,-0.015,0,0.015,0.0305],"range":["#000000","#000000","#0000ff","#00ffff","#00ff00","#ffff00","#ff0000"]},"legend":null}}},
{"encoding":{
"x":{"field":"a","type":"quantitative","scale":{"domain":[473.5,748],"range":[639.3,1047.3],"nice":false,"zero":false},"axis":null},
"x2":{"field":"b"},
"y":{"field":"d0","type":"quantitative","scale":{"type":"log","domain":[0.5,1600],"range":[441.7,48.3],"nice":false},"axis":null},
"y2":{"field":"d1"}},
"layer":[
{"data":{"name":"ticks"},"mark":{"type":"rule","stroke":"#222222","strokeWidth":1.4}},
{"data":{"values":[{"a":473.5,"b":748,"d0":0.5,"d1":1600}]},"mark":{"type":"rect","fillOpacity":0,"stroke":"#222222","strokeWidth":2}}
]},
{"encoding":{
"x":{"field":"a","type":"quantitative","scale":{"domain":[0,1],"range":[1086,1119],"nice":false,"zero":false},"axis":null},
"x2":{"field":"b"},
"y":{"field":"v0","type":"quantitative","scale":{"domain":[-0.0315,0.0305],"range":[442.3,55.7],"nice":false,"zero":false},"axis":{"orient":"right","offset":-113,"values":[-0.03,-0.0225,-0.015,-0.0075,0,0.0075,0.015,0.0225,0.03],"labelExpr":"datum.value==0?'0':replace(format(datum.value,'.4f'),'-','–')","grid":false,"domain":false,"ticks":false,"labelPadding":9,"labelFont":"Liberation Serif","labelFontSize":21,"labelColor":"#333333","labelOverlap":false,"title":null}},
"y2":{"field":"v1"}},
"layer":[
{"data":{"name":"bar"},"mark":{"type":"rect","strokeWidth":0.4},"encoding":{
"fill":{"field":"v","type":"quantitative","scale":{"domain":[-0.0315,-0.0301,-0.03,-0.015,0,0.015,0.0305],"range":["#000000","#000000","#0000ff","#00ffff","#00ff00","#ffff00","#ff0000"]},"legend":null},
"stroke":{"field":"v","type":"quantitative","scale":{"domain":[-0.0315,-0.0301,-0.03,-0.015,0,0.015,0.0305],"range":["#000000","#000000","#0000ff","#00ffff","#00ff00","#ffff00","#ff0000"]},"legend":null}}},
{"data":{"values":[{"a":0,"b":1,"v0":-0.0315,"v1":0.0305}]},"mark":{"type":"rect","fillOpacity":0,"stroke":"#333333","strokeWidth":2}}
]},
{"encoding":{
"x":{"field":"x","type":"quantitative","scale":{"domain":[0,1232],"nice":false,"zero":false},"axis":null},
"y":{"field":"y","type":"quantitative","scale":{"domain":[872,0],"nice":false,"zero":false},"axis":null}},
"layer":[
{"data":{"name":"box"},"mark":{"type":"rule","stroke":"#444444","strokeWidth":1,"strokeDash":[7.5,5.5]},"encoding":{"x2":{"field":"x2"},"y2":{"field":"y2"}}},
{"data":{"name":"arrows"},"mark":{"type":"rule"},"encoding":{"x2":{"field":"x2"},"y2":{"field":"y2"},"strokeWidth":{"field":"w","type":"quantitative","scale":null},"color":{"field":"col","type":"nominal","scale":null}}},
{"data":{"name":"zig"},"mark":{"type":"line","order":false,"stroke":"black","strokeWidth":1.3,"strokeJoin":"miter"},"encoding":{"detail":{"field":"id"}}},
{"data":{"name":"wavy"},"mark":{"type":"line","order":false,"stroke":"black","strokeWidth":2.2,"interpolate":"cardinal"},"encoding":{"detail":{"field":"id"}}},
{"data":{"name":"wavyd"},"mark":{"type":"line","order":false,"stroke":"black","strokeWidth":2.2,"interpolate":"cardinal","strokeDash":[9,7]},"encoding":{"detail":{"field":"id"}}},
{"data":{"name":"levels"},"mark":{"type":"rule"},"encoding":{"x2":{"field":"x2"},"strokeWidth":{"field":"w","type":"quantitative","scale":null},"color":{"field":"col","type":"nominal","scale":null}}},
{"data":{"name":"heads"},"mark":{"type":"point","filled":true,"shape":"M0,-1L-1,1L1,1Z","color":"black","opacity":1},"encoding":{"angle":{"field":"a","type":"quantitative","scale":null},"size":{"field":"s","type":"quantitative","scale":null}}},
{"data":{"name":"ital"},"mark":{"type":"text","font":"Liberation Serif","fontStyle":"italic","align":"left","baseline":"alphabetic","color":"#222222"},"encoding":{"text":{"field":"t"},"size":{"field":"s","type":"quantitative","scale":null}}},
{"data":{"name":"rom"},"mark":{"type":"text","font":"Liberation Serif","align":"left","baseline":"alphabetic","color":"#222222"},"encoding":{"text":{"field":"t"},"size":{"field":"s","type":"quantitative","scale":null}}},
{"data":{"values":[{"x":1219,"y":249.5,"t":"Scale of the relative absorbance change"}]},"mark":{"type":"text","font":"Liberation Serif","align":"center","baseline":"alphabetic","angle":270,"fontSize":21,"color":"#333333"},"encoding":{"text":{"field":"t"}}}
]}
],
"resolve":{"scale":{"x":"independent","y":"independent"},"axis":{"x":"independent","y":"independent"}}
}
